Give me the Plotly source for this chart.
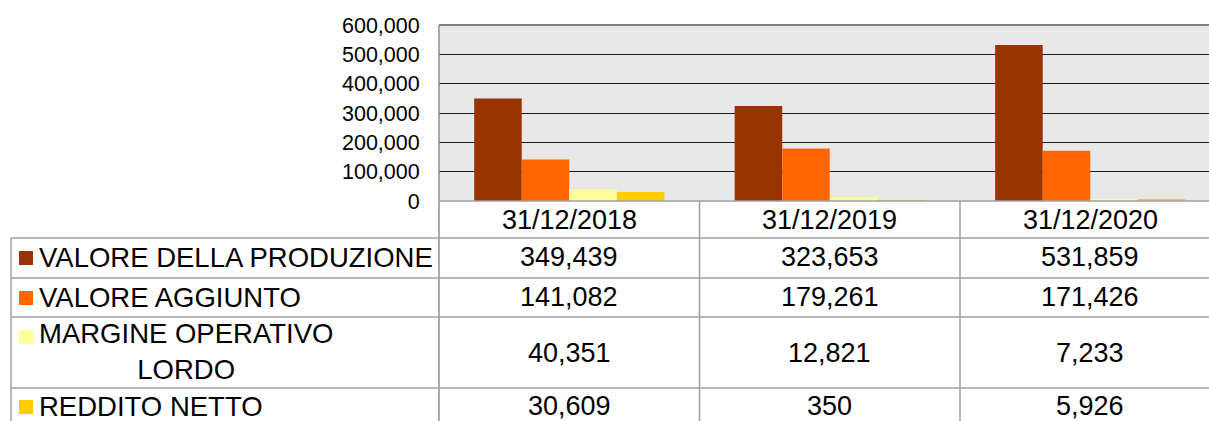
import plotly.graph_objects as go

# ---- data ----
categories = ["31/12/2018", "31/12/2019", "31/12/2020"]
series_names = ["VALORE DELLA PRODUZIONE", "VALORE AGGIUNTO",
                "MARGINE OPERATIVO<br>LORDO", "REDDITO NETTO"]
valore_produzione = [349439, 323653, 531859]
valore_aggiunto = [141082, 179261, 171426]
margine_operativo_lordo = [40351, 12821, 7233]
reddito_netto = [30609, 350, 5926]
y_tick_values = [0, 100000, 200000, 300000, 400000, 500000, 600000]
series_colors = ["#993300", "#FF6600", "#FFFF99", "#FFCC00"]

series_values = [valore_produzione, valore_aggiunto, margine_operativo_lordo, reddito_netto]

# ---- layout geometry (pixels) ----
W, H = 1209, 421
PLOT_L, PLOT_T, PLOT_B = 439, 25, 201
COL_W = 260.5
TABLE_L = 11
ROW_LINES = [238, 278, 317, 388]
HEADER_Y = 220
ROW_CENTERS = [257, 297, 353, 406]
LABEL_CENTERS = [257, 297, 351, 406]
FONT = "Liberation Sans, Arial, sans-serif"
LINE_GRAY = "#A0A0A0"


def px(x):
    return x / W


def py(y):
    return 1 - y / H


fig = go.Figure()
for name, vals, col in zip(series_names, series_values, series_colors):
    fig.add_trace(go.Bar(x=categories, y=vals, name=name.replace("<br>", " "),
                         marker=dict(color=col, line=dict(width=0)),
                         showlegend=False))

x_span = (W - PLOT_L) / COL_W

shapes = []
# plot borders
shapes.append(dict(type="line", xref="paper", yref="paper", x0=px(PLOT_L), x1=1.0,
                   y0=py(PLOT_T), y1=py(PLOT_T), line=dict(color="#808080", width=2)))
shapes.append(dict(type="line", xref="paper", yref="paper", x0=px(PLOT_L), x1=px(PLOT_L),
                   y0=py(PLOT_T), y1=0, line=dict(color="#909090", width=1.5)))
shapes.append(dict(type="line", xref="paper", yref="paper", x0=px(PLOT_L), x1=1.0,
                   y0=py(PLOT_B), y1=py(PLOT_B), line=dict(color=LINE_GRAY, width=1.5)))
# table horizontal lines
for yl in ROW_LINES:
    shapes.append(dict(type="line", xref="paper", yref="paper", x0=px(TABLE_L), x1=1.0,
                       y0=py(yl), y1=py(yl), line=dict(color=LINE_GRAY, width=1.5)))
# table left border
shapes.append(dict(type="line", xref="paper", yref="paper", x0=px(TABLE_L), x1=px(TABLE_L),
                   y0=py(ROW_LINES[0]), y1=0, line=dict(color=LINE_GRAY, width=1.5)))
# column separators between categories
for i in range(len(categories) - 1):
    shapes.append(dict(type="line", xref="x", yref="paper", x0=i + 0.5, x1=i + 0.5,
                       y0=py(PLOT_B), y1=0, line=dict(color=LINE_GRAY, width=1.5)))
# legend keys
for i, col in enumerate(series_colors):
    cy = ROW_CENTERS[i] if i != 2 else 336
    shapes.append(dict(type="rect", xref="paper", yref="paper",
                       x0=px(19), x1=px(33), y0=py(cy - 7 + 1), y1=py(cy + 7 + 1),
                       fillcolor=col, line=dict(width=0)))

annotations = []
for i, cat in enumerate(categories):
    annotations.append(dict(x=i, y=py(HEADER_Y), xref="x", yref="paper", text=cat,
                            showarrow=False, xanchor="center", yanchor="middle",
                            font=dict(family=FONT, size=27, color="black")))
    for r, vals in enumerate(series_values):
        annotations.append(dict(x=i, y=py(ROW_CENTERS[r]), xref="x", yref="paper",
                                text=f"{vals[i]:,}", showarrow=False,
                                xanchor="center", yanchor="middle",
                                font=dict(family=FONT, size=27, color="black")))
for r, name in enumerate(series_names):
    annotations.append(dict(x=px(37), y=py(LABEL_CENTERS[r]), xref="paper", yref="paper",
                            text=name, showarrow=False, xanchor="left", yanchor="middle",
                            align="center",
                            font=dict(family=FONT, size=27.5, color="black")))

fig.update_layout(
    width=W, height=H, autosize=False,
    margin=dict(l=0, r=0, t=0, b=0, pad=0),
    paper_bgcolor="white",
    plot_bgcolor="#E8E8E8",
    barmode="group",
    bargap=0.27,
    bargroupgap=0,
    xaxis=dict(domain=[px(PLOT_L), 1.0], range=[-0.5, -0.5 + x_span],
               showticklabels=False, ticks="", showgrid=False, zeroline=False,
               showline=False, fixedrange=True, automargin=False),
    yaxis=dict(domain=[py(PLOT_B), py(PLOT_T)], range=[0, 600000],
               tickvals=y_tick_values, tickformat=",", showgrid=True,
               gridcolor="#1a1a1a", gridwidth=1, zeroline=False, showline=False,
               ticks="outside", ticklen=14, tickcolor="rgba(0,0,0,0)",
               automargin=False,
               tickfont=dict(family=FONT, size=21.5, color="black")),
    shapes=shapes,
    annotations=annotations,
)

fig.write_html("out.html",
               config={"displayModeBar": False},
               post_script="document.body.style.margin='0';document.body.style.overflow='hidden';")
